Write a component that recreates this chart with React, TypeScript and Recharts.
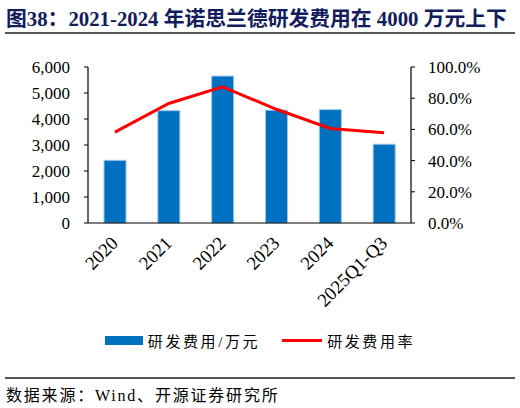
import React from 'react';
import { ComposedChart, Bar, Line, XAxis, YAxis, Legend } from 'recharts';

const categories = ['2020', '2021', '2022', '2023', '2024', '2025Q1-Q3'];
const rdExpense = [2410, 4320, 5650, 4340, 4360, 3030];
const rdRatio = [0.583, 0.766, 0.873, 0.729, 0.606, 0.579];
const leftTicks = [0, 1000, 2000, 3000, 4000, 5000, 6000];
const rightTicks = [0, 0.2, 0.4, 0.6, 0.8, 1.0];

const data = categories.map((c, i) => ({ name: c, expense: rdExpense[i], ratio: rdRatio[i] }));

const SERIF = '"Liberation Serif", "Times New Roman", "Noto Sans CJK SC", serif';
const CJK = '"Liberation Serif", "Noto Sans CJK SC", serif';

const XTick = (props: any) => {
  const { x, y, payload } = props;
  return (
    <g transform={`translate(${x - 3},${y + 6})`}>
      <text
        x={0}
        y={0}
        dy="0.55em"
        textAnchor="end"
        transform="rotate(-45)"
        fontFamily={SERIF}
        fontSize={18.8}
        fill="#000"
      >
        {payload.value}
      </text>
    </g>
  );
};

const LegendContent = () => (
  <div
    style={{
      height: 40,
      display: 'flex',
      alignItems: 'center',
      justifyContent: 'center',
      fontFamily: CJK,
      fontSize: 15,
      color: '#000',
    }}
  >
    <div style={{ display: 'flex', alignItems: 'center', marginLeft: 0 }}>
      <span style={{ display: 'inline-block', width: 38, height: 9, background: '#0070C0', marginRight: 5 }} />
      <span style={{ letterSpacing: 2.6 }}>研发费用/万元</span>
    </div>
    <div style={{ display: 'flex', alignItems: 'center', marginLeft: 22 }}>
      <span style={{ display: 'inline-block', width: 40, height: 3, background: '#FF0000', marginRight: 5 }} />
      <span style={{ letterSpacing: 2.6 }}>研发费用率</span>
    </div>
  </div>
);

export default function App() {
  return (
    <div
      style={{
        position: 'fixed',
        left: 0,
        top: 0,
        width: 520,
        height: 408,
        background: '#fff',
        overflow: 'hidden',
      }}
    >
      <div
        style={{
          position: 'absolute',
          left: 6,
          top: 2,
          fontFamily: '"Liberation Serif", "Noto Sans CJK SC", serif',
          fontWeight: 'bold',
          fontSize: 20.8,
          color: '#141C5E',
          whiteSpace: 'nowrap',
        }}
      >
        图38：2021-2024 年诺思兰德研发费用在 4000 万元上下
      </div>
      <div style={{ position: 'absolute', left: 5, top: 32, width: 510, height: 2, background: '#555' }} />
      <div style={{ position: 'absolute', left: 0, top: 40 }}>
        <ComposedChart
          width={520}
          height={320}
          data={data}
          margin={{ top: 27, right: 0, bottom: 0, left: 0 }}
        >
          <XAxis
            dataKey="name"
            height={97}
            tick={<XTick />}
            tickLine={false}
            axisLine={{ stroke: '#000', strokeWidth: 1.2 }}
            interval={0}
          />
          <YAxis
            yAxisId="left"
            width={88}
            domain={[0, 6000]}
            ticks={leftTicks}
            tickFormatter={(v: number) => v.toLocaleString('en-US')}
            tick={{ fontFamily: SERIF, fontSize: 17, fill: '#000' }}
            tickSize={4}
            tickMargin={14}
            axisLine={{ stroke: '#000', strokeWidth: 1.2 }}
            tickLine={{ stroke: '#000' }}
          />
          <YAxis
            yAxisId="right"
            orientation="right"
            width={109}
            domain={[0, 1]}
            ticks={rightTicks}
            tickFormatter={(v: number) => (v * 100).toFixed(1) + '%'}
            tick={{ fontFamily: SERIF, fontSize: 17, fill: '#000', textAnchor: 'start' }}
            tickSize={4}
            tickMargin={13}
            axisLine={{ stroke: '#000', strokeWidth: 1.2 }}
            tickLine={{ stroke: '#000' }}
          />
          <Legend content={<LegendContent />} verticalAlign="bottom" />
          <Bar
            yAxisId="left"
            dataKey="expense"
            name="研发费用/万元"
            fill="#0070C0"
            stroke="#9DC3E6"
            strokeWidth={1}
            barSize={22}
            isAnimationActive={false}
          />
          <Line
            yAxisId="right"
            dataKey="ratio"
            name="研发费用率"
            stroke="#FF0000"
            strokeWidth={3}
            dot={false}
            type="linear"
            isAnimationActive={false}
          />
        </ComposedChart>
      </div>
      <div style={{ position: 'absolute', left: 5, top: 377, width: 510, height: 1.5, background: '#555' }} />
      <div
        style={{
          position: 'absolute',
          left: 6,
          top: 382,
          fontFamily: CJK,
          fontSize: 16,
          color: '#000',
          whiteSpace: 'nowrap',
          letterSpacing: 1.8,
        }}
      >
        数据来源：Wind、开源证券研究所
      </div>
    </div>
  );
}
